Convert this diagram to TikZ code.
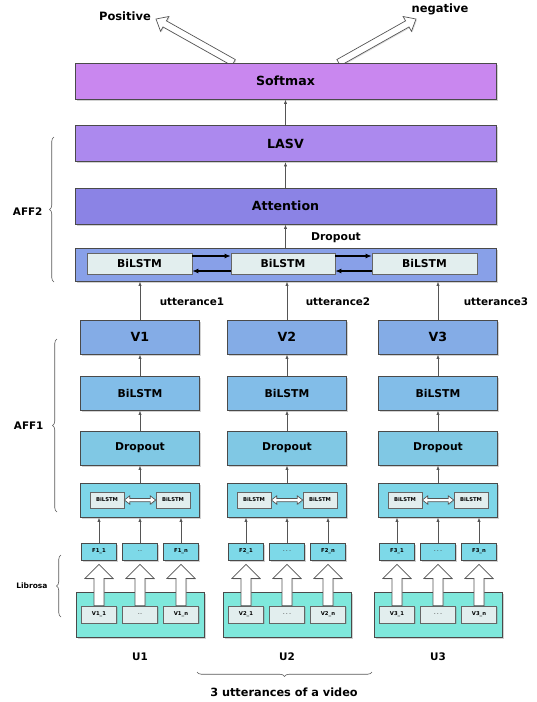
\documentclass[tikz,border=0pt]{standalone}
\usepackage{fontspec}
\setmainfont{DejaVu Sans}
\usetikzlibrary{calc,shadows,arrows.meta,decorations.pathreplacing}
\definecolor{cSoft}{HTML}{C987EF}
\definecolor{cLasv}{HTML}{AC89EE}
\definecolor{cAtt}{HTML}{8B83E5}
\definecolor{cRow}{HTML}{88A0E8}
\definecolor{cV}{HTML}{84ACE6}
\definecolor{cBil}{HTML}{82BDE8}
\definecolor{cDrop}{HTML}{80C8E4}
\definecolor{cCont}{HTML}{7ED6E8}
\definecolor{cF}{HTML}{7DD9E8}
\definecolor{cBot}{HTML}{7FE8DC}
\definecolor{cIn}{HTML}{E2EEEE}
\definecolor{bordc}{HTML}{4A4A4A}
\definecolor{arrc}{HTML}{555555}
\pgfdeclarelayer{back}\pgfdeclarelayer{cont}\pgfdeclarelayer{arr}
\pgfsetlayers{back,cont,arr,main}
% tail, tip, shaft half, head half, head length
\newcommand{\hollowarr}[5]{%
 \coordinate (hhA) at ($(#2)!#5!(#1)$);
 \path[hol] ($(#1)!#3!90:(#2)$) -- ($(hhA)!#3!90:(#2)$) -- ($(hhA)!#4!90:(#2)$) -- (#2)
   -- ($(hhA)!#4!-90:(#2)$) -- ($(hhA)!#3!-90:(#2)$) -- ($(#1)!#3!-90:(#2)$) -- cycle;}
% a, b, shaft half, head half, head length
\newcommand{\dblarr}[5]{%
 \coordinate (hhA) at ($(#1)!#5!(#2)$);
 \coordinate (hhB) at ($(#2)!#5!(#1)$);
 \path[hol] (#1) -- ($(hhA)!#4!90:(#2)$) -- ($(hhA)!#3!90:(#2)$) -- ($(hhB)!#3!90:(#2)$)
   -- ($(hhB)!#4!90:(#2)$) -- (#2) -- ($(hhB)!#4!-90:(#2)$) -- ($(hhB)!#3!-90:(#2)$)
   -- ($(hhA)!#3!-90:(#2)$) -- ($(hhA)!#4!-90:(#2)$) -- cycle;}
\begin{document}
\begin{tikzpicture}[x=1pt,y=-1pt,
 box/.style={rectangle, draw=bordc, line width=0.8pt, inner sep=0pt,
   drop shadow={shadow xshift=1.6pt, shadow yshift=-1.6pt, opacity=0.35}},
 inbox/.style={rectangle, draw=bordc!85, line width=0.6pt, fill=cIn, inner sep=0pt,
   drop shadow={shadow xshift=1pt, shadow yshift=-1pt, opacity=0.3}},
 conn/.style={draw=arrc, line width=0.7pt, -{Latex[length=4.5pt,width=3.2pt]}},
 thk/.style={draw=black, line width=1.6pt, -{Latex[length=6pt,width=5pt]}},
 brc/.style={draw=black!65, line width=0.6pt, decorate, decoration={brace, amplitude=4.5pt}},
 hol/.style={draw=arrc, fill=white, line width=0.7pt,
   drop shadow={shadow xshift=1pt, shadow yshift=-1pt, opacity=0.25}},
 ftop/.style={font=\bfseries\fontsize{12.6}{15}\selectfont},
 fmid/.style={font=\bfseries\fontsize{10.8}{13}\selectfont},
 flab/.style={font=\bfseries\fontsize{10.4}{12}\selectfont},
 fsm/.style={font=\bfseries\fontsize{5.3}{6}\selectfont},
 fdot/.style={font=\fontsize{6.5}{7}\selectfont, text=black!75},
]
\begin{pgfonlayer}{back}\fill[white] (0,0) rectangle (537,702);\end{pgfonlayer}
\useasboundingbox (0,0) rectangle (537,702);

% top stack
\node[box, fill=cSoft, minimum width=421pt, minimum height=36pt, ftop] (sm) at (285.5,81) {Softmax};
\node[box, fill=cLasv, minimum width=421pt, minimum height=36pt, ftop] (lasv) at (285.5,143.5) {LASV};
\node[box, fill=cAtt, minimum width=421pt, minimum height=36pt, ftop] (att) at (285.5,206) {Attention};
\node[box, fill=cRow, minimum width=421pt, minimum height=33pt] (row) at (285.5,264.5) {};
\node[inbox, minimum width=105pt, minimum height=21pt, fmid] (r1) at (139.5,263.5) {BiLSTM};
\node[inbox, minimum width=104pt, minimum height=21pt, fmid] (r2) at (283,263.5) {BiLSTM};
\node[inbox, minimum width=105pt, minimum height=21pt, fmid] (r3) at (424.5,263.5) {BiLSTM};
\draw[thk] ($(r1.east)+(0,-7.5)$) -- ($(r2.west)+(0,-7.5)$);
\draw[thk] ($(r2.west)+(0,7.5)$) -- ($(r1.east)+(0,7.5)$);
\draw[thk] ($(r2.east)+(0,-7.5)$) -- ($(r3.west)+(0,-7.5)$);
\draw[thk] ($(r3.west)+(0,7.5)$) -- ($(r2.east)+(0,7.5)$);

\draw[conn] (row.north -| att) -- (att.south);
\node[fmid] (dl) at (336,238) {Dropout};
\draw[conn] (att.north) -- (lasv.south);
\draw[conn] (lasv.north) -- (sm.south);

% outputs
\node[font=\bfseries\fontsize{11.5}{13}\selectfont] (pos) at (125,16) {Positive};
\node[font=\bfseries\fontsize{11.5}{13}\selectfont] (neg) at (440,9) {negative};
\coordinate (pTail) at ($(sm.north west)+(159,0)$);
\coordinate (pTip) at (156,19);
\coordinate (nTail) at ($(sm.north west)+(264,0)$);
\coordinate (nTip) at (416,19);
\begin{pgfonlayer}{arr}
\hollowarr{pTail}{pTip}{3.5pt}{8.5pt}{10pt}
\hollowarr{nTail}{nTip}{3.5pt}{8.5pt}{10pt}
\end{pgfonlayer}

% columns
\foreach \i/\cx/\dd/\ux in {1/140/../192,2/287/.\,.\,./338,3/438/.\,.\,./496}{
 \node[box, fill=cV, minimum width=119pt, minimum height=34pt, ftop] (v\i) at (\cx,337) {V\i};
 \node[box, fill=cBil, minimum width=119pt, minimum height=34pt, fmid] (l\i) at (\cx,393) {BiLSTM};
 \node[box, fill=cDrop, minimum width=119pt, minimum height=34pt, fmid] (d\i) at (\cx,448) {Dropout};
 \node[box, fill=cCont, minimum width=119pt, minimum height=34pt] (b\i) at (\cx,500) {};
 \node[inbox, minimum width=34pt, minimum height=16pt, fsm] (bl\i) at (\cx-33,500) {BiLSTM};
 \node[inbox, minimum width=34pt, minimum height=16pt, fsm] (br\i) at (\cx+33,500) {BiLSTM};
 \dblarr{bl\i.east}{br\i.west}{1.6pt}{4.2pt}{5.5pt}
 \node[box, fill=cF, minimum width=35pt, minimum height=17pt, fsm] (fa\i) at (\cx-41,551.5) {F\i\_1};
 \node[box, fill=cF, minimum width=35pt, minimum height=17pt, fdot] (fb\i) at (\cx,551.5) {\dd};
 \node[box, fill=cF, minimum width=35pt, minimum height=17pt, fsm] (fc\i) at (\cx+41,551.5) {F\i\_n};
 \begin{pgfonlayer}{cont}
  \node[box, fill=cBot, minimum width=128pt, minimum height=45pt] (c\i) at (\cx,614.5) {};
 \end{pgfonlayer}
 \node[inbox, minimum width=35pt, minimum height=17pt, fsm] (ga\i) at (\cx-41,614.5) {V\i\_1};
 \node[inbox, minimum width=35pt, minimum height=17pt, fdot] (gb\i) at (\cx,614.5) {\dd};
 \node[inbox, minimum width=35pt, minimum height=17pt, fsm] (gc\i) at (\cx+41,614.5) {V\i\_n};
 \begin{pgfonlayer}{arr}
  \coordinate (tpa) at ($(fa\i.south)+(0,4)$);
  \hollowarr{ga\i.north}{tpa}{5pt}{14pt}{14pt}
  \coordinate (tpb) at ($(fb\i.south)+(0,4)$);
  \hollowarr{gb\i.north}{tpb}{5pt}{14pt}{14pt}
  \coordinate (tpc) at ($(fc\i.south)+(0,4)$);
  \hollowarr{gc\i.north}{tpc}{5pt}{14pt}{14pt}
 \end{pgfonlayer}
 \draw[conn] (fa\i.north) -- (fa\i.north |- b\i.south);
 \draw[conn] (fb\i.north) -- (fb\i.north |- b\i.south);
 \draw[conn] (fc\i.north) -- (fc\i.north |- b\i.south);
 \draw[conn] (b\i.north) -- (d\i.south);
 \draw[conn] (d\i.north) -- (l\i.south);
 \draw[conn] (l\i.north) -- (v\i.south);
 \draw[conn] (v\i.north) -- (v\i.north |- row.south);
 \node[flab] (ut\i) at (\ux,302) {utterance\i};
 \node[flab] (u\i) at (\cx,657) {U\i};
}

% braces
\coordinate (a2b) at (54,282); \coordinate (a2t) at (54,137);
\draw[brc] (a2b) -- (a2t);
\node[flab, anchor=east] (aff2) at (46,212) {AFF2};
\coordinate (a1b) at (57,512); \coordinate (a1t) at (57,339);
\draw[brc] (a1b) -- (a1t);
\node[flab, anchor=east] (aff1) at (47,426) {AFF1};
\coordinate (lbb) at (61,617); \coordinate (lbt) at (61,555);
\draw[brc] (lbb) -- (lbt);
\node[font=\bfseries\fontsize{7.5}{9}\selectfont, anchor=east] (lib) at (51,586) {Librosa};
\coordinate (vbr) at (372,672); \coordinate (vbl) at (197,672);
\draw[brc] (vbr) -- (vbl);
\node[font=\bfseries\fontsize{11.3}{13}\selectfont] (vid) at (284,692) {3 utterances of a video};
\end{tikzpicture}
\end{document}
